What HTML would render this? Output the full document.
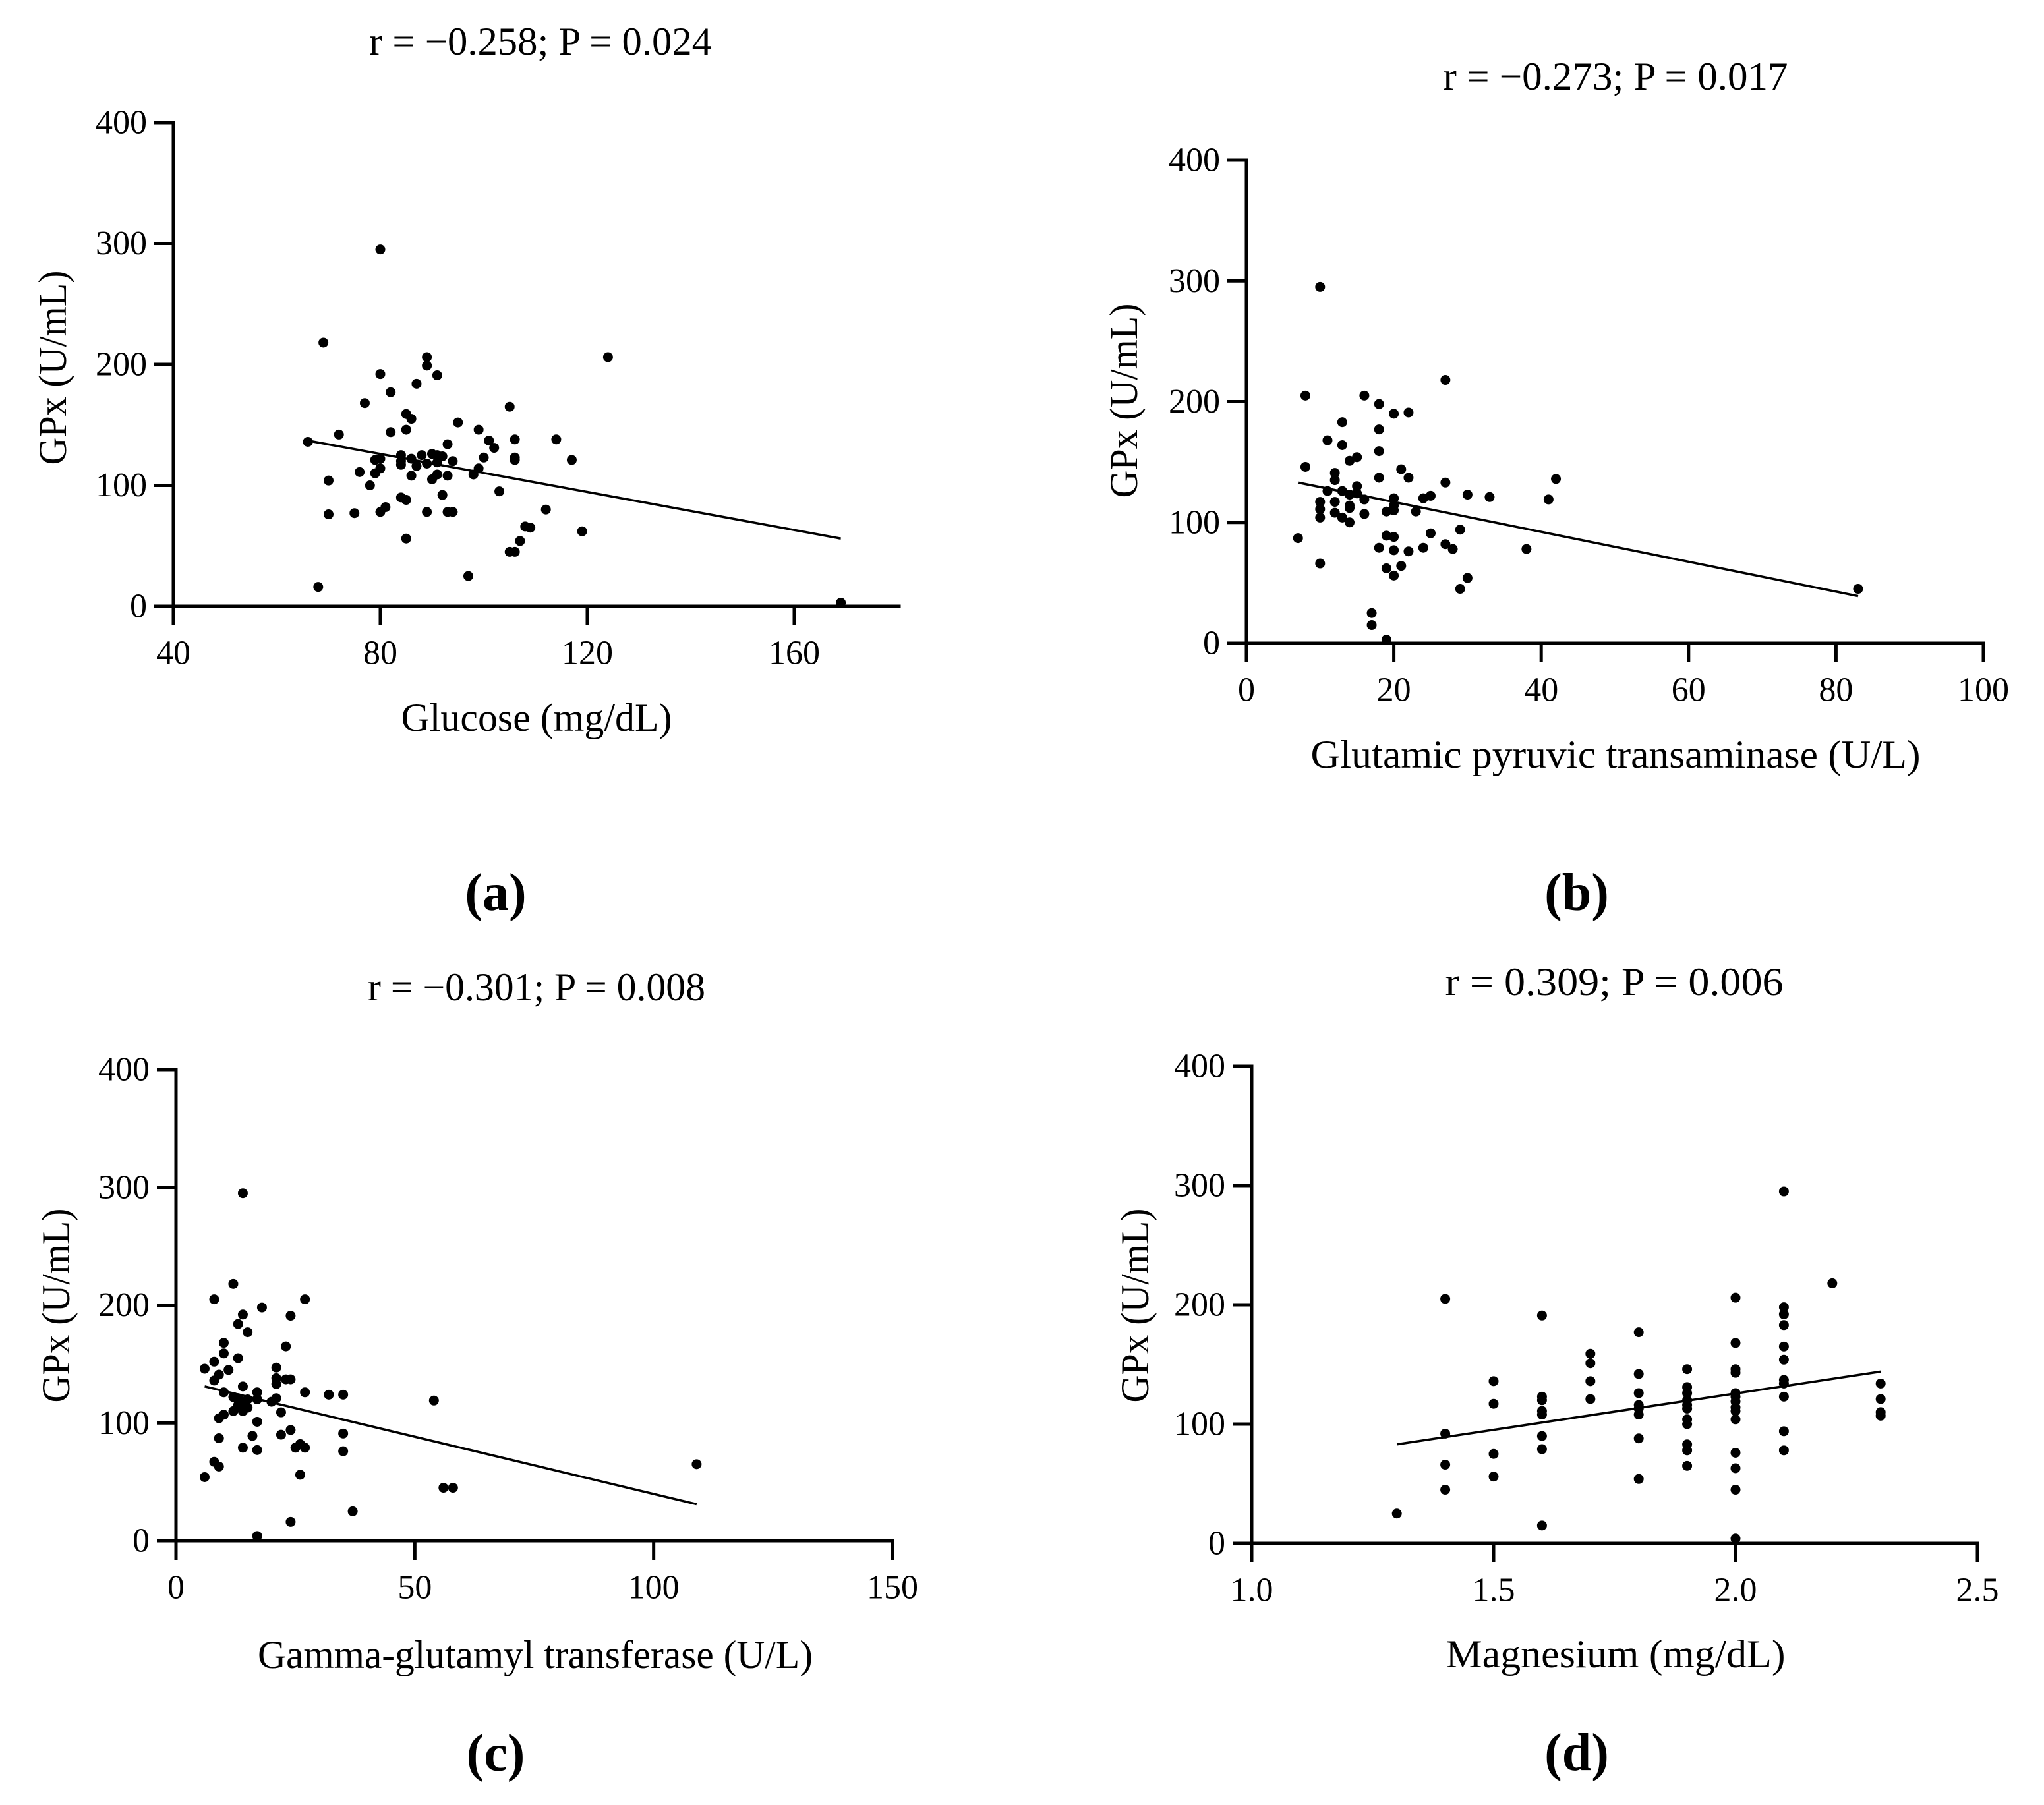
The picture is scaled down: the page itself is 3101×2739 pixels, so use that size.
<!DOCTYPE html>
<html><head><meta charset="utf-8"><style>
html,body{margin:0;padding:0;background:#fff}
svg{display:block}
text{font-family:"Liberation Serif",serif;fill:#000}
</style></head><body>
<svg id="fig" xmlns="http://www.w3.org/2000/svg" width="3101" height="2739" viewBox="0 0 3101 2739"></svg>
<script>
// Panel (a) data: Glucose vs GPx
const aGlucose=[80,69,124,89,89,91,80,82,87,77,105,85,86,95,99,85,82,72,66,114,106,101,102,93,100,106,106,117,84,88,90,91,92,86,79,80,84,94,91,89,87,84,80,99,79,76,98,91,93,86,90,70,78,103,92,84,85,81,80,89,93,94,112,75,70,108,109,119,107,85,105,106,97,68,169];
const aGPx=[295,218,206,206,199,191,192,177,184,168,165,159,155,152,146,146,144,142,136,138,138,137,131,134,123,123,121,121,125,125,126,125,124,122,121,122,120,120,119,118,116,117,114,114,110,111,109,109,108,108,105,104,100,95,92,90,88,82,78,78,78,78,80,77,76,66,65,62,54,56,45,45,25,16,3];
const aFitX=[66,169];
const aFitY=[137,56];
// Panel (b) data: GPT vs GPx
const bGPT=[10,27,8,16,18,20,22,13,18,11,13,18,15,14,8,21,12,18,22,42,12,27,15,11,13,15,30,25,24,33,41,20,14,10,16,12,14,20,14,10,19,20,23,12,16,10,13,14,7,25,29,19,20,18,24,27,28,38,22,20,10,21,19,20,30,29,83,17,17,19];
const bGPx=[295,218,205,205,198,190,191,183,177,168,164,159,154,151,146,144,141,137,137,136,135,133,130,126,126,124,123,122,120,121,119,120,123,117,119,117,114,114,112,111,109,110,109,108,107,104,104,100,87,91,94,89,88,79,79,82,78,78,76,77,66,64,62,56,54,45,45,25,15,3];
const bFitX=[7,83];
const bFitY=[133,39];
// Panel (c) data: GGT vs GPx
const cGGT=[14,12,8,27,18,14,24,13,15,10,23,10,13,8,6,21,11,9,21,23,24,8,27,10,17,32,35,14,21,13,12,21,15,17,20,14,13,15,54,22,14,12,10,9,17,24,35,22,16,9,26,14,25,27,17,35,8,9,109,26,6,56,58,37,24,17];
const cGPx=[295,218,205,205,198,192,191,184,177,168,165,159,155,152,146,147,145,141,138,137,137,136,126,126,126,124,124,131,133,121,122,121,120,120,118,117,115,113,119,109,110,110,107,104,101,94,91,90,89,87,82,79,79,79,77,76,67,63,65,56,54,45,45,25,16,4];
const cFitX=[6,109];
const cFitY=[131,31];
// Panel (d) data: Magnesium vs GPx
const dMg=[1.3,1.4,1.4,1.4,1.4,1.5,1.5,1.5,1.5,1.6,1.6,1.6,1.6,1.6,1.6,1.6,1.6,1.7,1.7,1.7,1.7,1.8,1.8,1.8,1.8,1.8,1.8,1.8,1.8,1.9,1.9,1.9,1.9,1.9,1.9,1.9,1.9,1.9,1.9,1.9,2.0,2.0,2.0,2.0,2.0,2.0,2.0,2.0,2.0,2.0,2.0,2.0,2.0,2.0,2.1,2.1,2.1,2.1,2.1,2.1,2.1,2.1,2.1,2.1,2.1,2.2,2.3,2.3,2.3,2.3];
const dGPx=[25,205,92,66,45,136,117,75,56,191,123,120,111,108,90,79,15,159,151,136,121,177,142,126,116,113,108,88,54,146,131,126,120,116,113,104,100,83,78,65,206,168,146,143,126,123,119,114,111,104,76,63,45,4,295,198,192,183,165,154,137,134,123,94,78,218,134,121,110,107];
const dFitX=[1.3,2.3];
const dFitY=[83,144];
const yTicks=[0,100,200,300,400];
const aXTicks=[40,80,120,160];
const bXTicks=[0,20,40,60,80,100];
const cXTicks=[0,50,100,150];
const dXTicks=[1.0,1.5,2.0,2.5];
const aXTickLabels=["40","80","120","160"];
const bXTickLabels=["0","20","40","60","80","100"];
const cXTickLabels=["0","50","100","150"];
const dXTickLabels=["1.0","1.5","2.0","2.5"];

const NS="http://www.w3.org/2000/svg";
const svg=document.getElementById('fig');
function mk(tag,attrs,parent){const e=document.createElementNS(NS,tag);for(const k in attrs)e.setAttribute(k,attrs[k]);(parent||svg).appendChild(e);return e;}

const panels=[
 {id:'a',xs:aGlucose,ys:aGPx,fx:aFitX,fy:aFitY,xt:aXTicks,xtl:aXTickLabels,x0v:40,x1v:160,x0p:263,x1p:1205,xEnd:1364,y0p:920,y400p:186,
  title:"r = \u22120.258; P = 0.024",tpos:[820,63,520],xlabel:"Glucose (mg/dL)",xl:[814,1089,411],yl:[80,558,295],pl:[752,1355]},
 {id:'b',xs:bGPT,ys:bGPx,fx:bFitX,fy:bFitY,xt:bXTicks,xtl:bXTickLabels,x0v:0,x1v:100,x0p:1891,x1p:3009,xEnd:3009,y0p:976,y400p:243,
  title:"r = \u22120.273; P = 0.017",tpos:[2451,116,523],xlabel:"Glutamic pyruvic transaminase  (U/L)",xl:[2451,1145,925],yl:[1705,608,295],pl:[2392,1355]},
 {id:'c',xs:cGGT,ys:cGPx,fx:cFitX,fy:cFitY,xt:cXTicks,xtl:cXTickLabels,x0v:0,x1v:150,x0p:267,x1p:1354,xEnd:1354,y0p:2338,y400p:1623,
  title:"r = \u22120.301; P = 0.008",tpos:[814,1498,512],xlabel:"Gamma-glutamyl transferase  (U/L)",xl:[812,2511,842],yl:[85,1981,295],pl:[752,2661]},
 {id:'d',xs:dMg,ys:dGPx,fx:dFitX,fy:dFitY,xt:dXTicks,xtl:dXTickLabels,x0v:1.0,x1v:2.5,x0p:1899,x1p:3000,xEnd:3000,y0p:2342,y400p:1618,
  title:"r = 0.309; P = 0.006",tpos:[2449,1490,513],xlabel:"Magnesium (mg/dL)",xl:[2451,2510,515],yl:[1722,1981,295],pl:[2392,2660]}
];

panels.forEach(p=>{
 const g=mk('g',{});
 
 
 const X=v=>p.x0p+(v-p.x0v)/(p.x1v-p.x0v)*(p.x1p-p.x0p);
 const Y=v=>p.y0p+(v/400)*(p.y400p-p.y0p);
 const ya=mk('line',{x1:p.x0p,y1:Y(400)-2.5,x2:p.x0p,y2:p.y0p+29,stroke:'#000','stroke-width':5},g);
 
 
 const xa=mk('line',{x1:p.x0p-29,y1:p.y0p,x2:p.xEnd+2.5,y2:p.y0p,stroke:'#000','stroke-width':5},g);
 
 
 yTicks.forEach(t=>{
  const y=Y(t);
  if(t>0){const tk=mk('line',{x1:p.x0p-29,y1:y,x2:p.x0p,y2:y,stroke:'#000','stroke-width':5},g);
   
   }
  const tl=mk('text',{x:p.x0p-40,y:y,'text-anchor':'end','dominant-baseline':'central','font-size':52},g);
  tl.textContent=String(t);
  
  
 });
 p.xt.forEach((t,i)=>{
  const x=X(t);
  if(i>0){const tk=mk('line',{x1:x,y1:p.y0p,x2:x,y2:p.y0p+29,stroke:'#000','stroke-width':5},g);
   
   }
  const tl=mk('text',{x:x,y:p.y0p+71,'text-anchor':'middle','dominant-baseline':'central','font-size':52},g);
  tl.textContent=p.xtl[i];
  
  
 });
 p.xs.forEach((v,i)=>{
  const c=mk('circle',{cx:X(v),cy:Y(p.ys[i]),r:7.5,fill:'#000'},g);
  
  
 });
 const fl=mk('line',{x1:X(p.fx[0]),y1:Y(p.fy[0]),x2:X(p.fx[1]),y2:Y(p.fy[1]),stroke:'#000','stroke-width':3.5},g);
 
 
 const tt=mk('text',{x:p.tpos[0],y:p.tpos[1],'text-anchor':'middle','dominant-baseline':'central','font-size':60,textLength:p.tpos[2],lengthAdjust:'spacingAndGlyphs'},g);
 tt.textContent=p.title;
 
 
 const xl=mk('text',{x:p.xl[0],y:p.xl[1],'text-anchor':'middle','dominant-baseline':'central','font-size':60,textLength:p.xl[2],lengthAdjust:'spacingAndGlyphs'},g);
 xl.textContent=p.xlabel;
 
 
 const yl=mk('text',{x:0,y:0,'text-anchor':'middle','dominant-baseline':'central','font-size':60,textLength:p.yl[2],lengthAdjust:'spacingAndGlyphs',transform:`translate(${p.yl[0]},${p.yl[1]}) rotate(-90)`},g);
 yl.textContent="GPx (U/mL)";
 
 
 const pl=mk('text',{x:p.pl[0],y:p.pl[1],'text-anchor':'middle','dominant-baseline':'central','font-size':80,'font-weight':'bold'},g);
 pl.textContent="("+p.id+")";
 
 
});
</script>
</body></html>
